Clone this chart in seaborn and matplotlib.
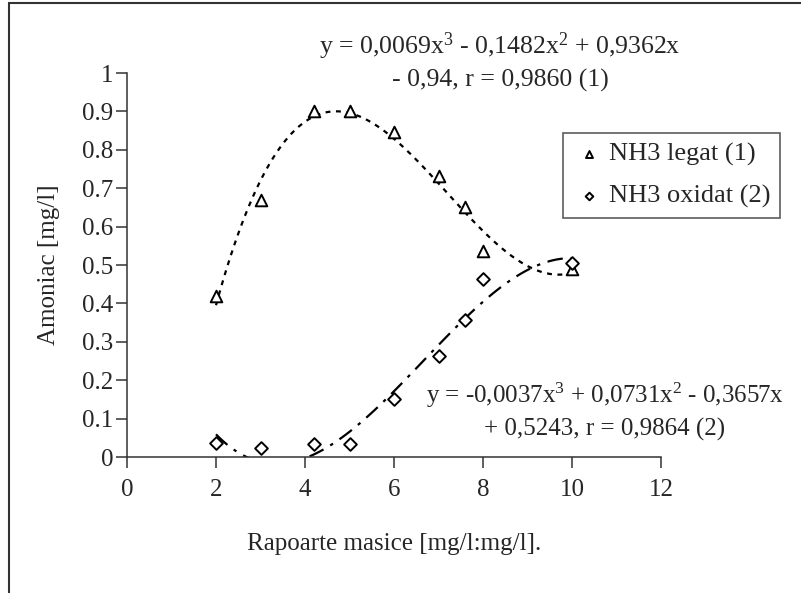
import matplotlib
matplotlib.use("Agg")
import matplotlib.pyplot as plt
from matplotlib.patches import Rectangle
import numpy as np
import pandas as pd
import seaborn as sns

# values
rapoarte = [2, 3, 4.2, 5, 6, 7, 7.6, 8, 10]
nh3_legat = [0.42, 0.67, 0.90, 0.90, 0.846, 0.732, 0.65, 0.536, 0.49]
nh3_oxidat = [0.036, 0.023, 0.034, 0.033, 0.151, 0.263, 0.357, 0.463, 0.505]

eq1 = ["y = 0,0069x$^{\\mathrm{3}}$ - 0,1482x$^{\\mathrm{2}}$ + 0,9362x",
       "- 0,94, r = 0,9860 (1)"]
eq2 = ["y = -0,0037x$^{\\mathrm{3}}$ + 0,0731x$^{\\mathrm{2}}$ - 0,3657x",
       "+ 0,5243, r = 0,9864 (2)"]

df = pd.DataFrame({"x": rapoarte, "legat": nh3_legat, "oxidat": nh3_oxidat})

sns.set_style("ticks")
plt.rcParams["font.family"] = ["Liberation Serif", "DejaVu Serif"]
plt.rcParams["mathtext.fontset"] = "custom"
plt.rcParams["mathtext.rm"] = "Liberation Serif"
plt.rcParams["mathtext.it"] = "Liberation Serif:italic"

fig = plt.figure(figsize=(8.01, 5.93), dpi=100)
ax = fig.add_axes([127 / 801, 1 - 457 / 593, 534 / 801, 384 / 593])

# polynomial trend lines (order 3), clipped by the axes like in the original
sns.regplot(data=df, x="x", y="legat", order=3, ci=None, scatter=False, truncate=True,
            line_kws=dict(color="black", lw=1.6, ls=(0, (2.2, 2.5))), ax=ax)
sns.regplot(data=df, x="x", y="oxidat", order=3, ci=None, scatter=False, truncate=True,
            line_kws=dict(color="black", lw=1.6, ls=(0, (7, 3.5, 1.5, 3.5))), ax=ax)

sns.scatterplot(data=df, x="x", y="legat", marker="^", s=70, facecolor="white",
                edgecolor="black", linewidth=1.4, label="NH3 legat (1)", ax=ax, zorder=3)
sns.scatterplot(data=df, x="x", y="oxidat", marker="D", s=42, facecolor="white",
                edgecolor="black", linewidth=1.4, label="NH3 oxidat (2)", ax=ax, zorder=3)

ax.set_xlim(0, 12)
ax.set_ylim(0, 1)
ax.set_xticks(range(0, 13, 2))
ax.set_yticks(np.arange(0, 1.01, 0.1))
ax.set_yticklabels(["0", "0.1", "0.2", "0.3", "0.4", "0.5", "0.6", "0.7", "0.8", "0.9", "1"])
sns.despine(ax=ax)
for s in ["left", "bottom"]:
    ax.spines[s].set_color("#333333")
    ax.spines[s].set_linewidth(1.1)
ax.tick_params(axis="both", labelsize=18, length=8, width=1.1, color="#333333", direction="out")
ax.tick_params(axis="x", pad=8)
ax.tick_params(axis="y", pad=2)

ax.set_xlabel("Rapoarte masice [mg/l:mg/l].", fontsize=18, labelpad=23)
ax.set_ylabel("Amoniac [mg/l]", fontsize=18, labelpad=16)

leg = ax.legend(loc="upper left", bbox_to_anchor=(0.816, 0.844), frameon=True,
                fancybox=False, fontsize=19, labelspacing=0.7, handletextpad=0.1,
                markerscale=0.6, borderpad=0.35, handlelength=1.3, borderaxespad=0)
leg.get_frame().set_edgecolor("#333333")
leg.get_frame().set_linewidth(1.2)

fig.text(500 / 801, 1 - 46 / 593, eq1[0], ha="center", va="center", fontsize=18.5)
fig.text(500 / 801, 1 - 80 / 593, eq1[1], ha="center", va="center", fontsize=18.5)
fig.text(605 / 801, 1 - 395 / 593, eq2[0], ha="center", va="center", fontsize=18)
fig.text(605 / 801, 1 - 429 / 593, eq2[1], ha="center", va="center", fontsize=18)

# outer chart-area border (cut off at right and bottom)
fig.patches.append(Rectangle((9 / 801, -0.2), 1.2, 0.2 + 1 - 3 / 593, transform=fig.transFigure,
                             fill=False, edgecolor="#333333", lw=1.5))

fig.savefig("out.png", dpi=100)
